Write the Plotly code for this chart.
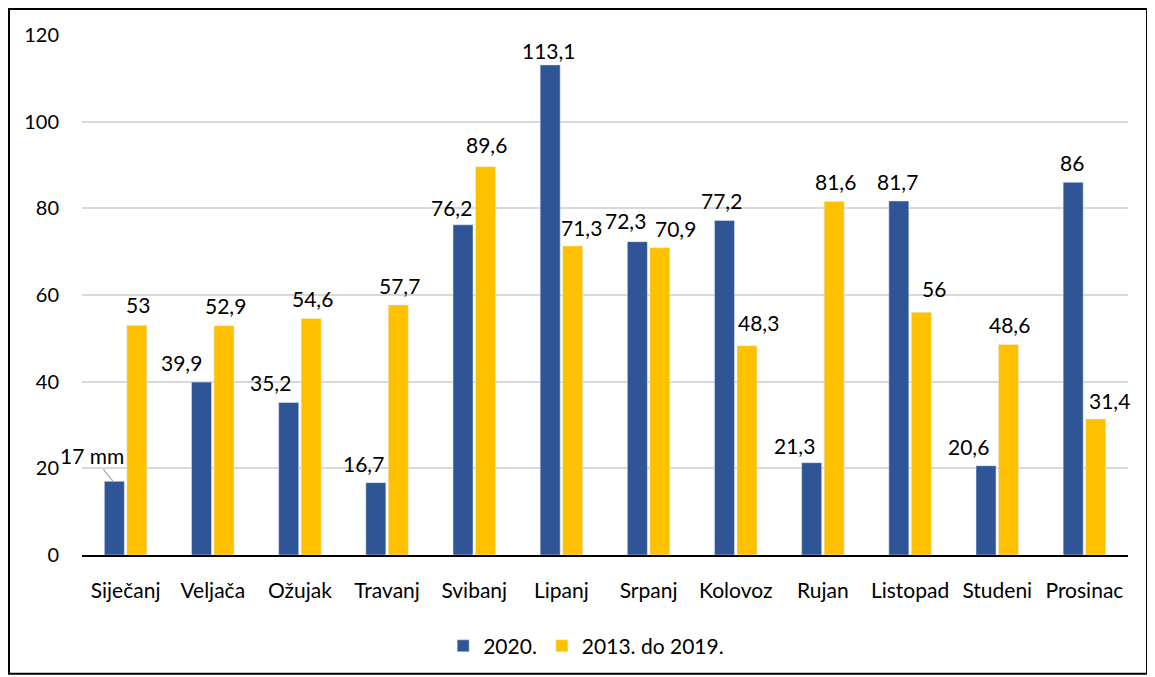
import plotly.graph_objects as go

months = ["Siječanj", "Veljača", "Ožujak", "Travanj", "Svibanj", "Lipanj",
          "Srpanj", "Kolovoz", "Rujan", "Listopad", "Studeni", "Prosinac"]
v2020 = [17, 39.9, 35.2, 16.7, 76.2, 113.1, 72.3, 77.2, 21.3, 81.7, 20.6, 86]
v1319 = [53, 52.9, 54.6, 57.7, 89.6, 71.3, 70.9, 48.3, 81.6, 56, 48.6, 31.4]

BLUE = "#2F5597"
GOLD = "#FFC000"
FONT = "Lato"
LBL = 21

# label nudges (px), copied from the original hand-placed labels
dx_blue = [0, -19, -17, -11, -10, 0, -11, -2, -16, 0, -16, 0]
dy_blue = [0, 0, 0, 0, -2, -5, 2, 0, -2, 0, 0, 0]
dx_gold = [0, 0, 0, 0, 0, 8, 14, 10, 0, 11, 0, 13]
dy_gold = [1, 1, 0, 0, 3, -1, 0, 4, 0, 4, 0, -1]


def fmt(v):
    s = ("%.1f" % v).rstrip("0").rstrip(".")
    return s.replace(".", ",")


fig = go.Figure()
fig.add_trace(go.Bar(x=months, y=v2020, name="2020.", marker_color=BLUE))
fig.add_trace(go.Bar(x=months, y=v1319, name="2013. do 2019.", marker_color=GOLD))

annotations = []
for i, m in enumerate(months):
    if i == 0:
        annotations.append(dict(
            x=m, y=v2020[i], xref="x", yref="y", text=fmt(v2020[i]) + " mm",
            xshift=-12.5, showarrow=True, arrowhead=0, arrowwidth=1.2,
            arrowcolor="#A6A6A6", ax=-21, ay=-26, standoff=0,
            font=dict(family=FONT, size=LBL, color="black")))
    else:
        annotations.append(dict(
            x=m, y=v2020[i], xref="x", yref="y", text=fmt(v2020[i]),
            xshift=-12.5 + dx_blue[i], yshift=5 + dy_blue[i],
            yanchor="bottom", showarrow=False,
            font=dict(family=FONT, size=LBL, color="black")))
    annotations.append(dict(
        x=m, y=v1319[i], xref="x", yref="y", text=fmt(v1319[i]),
        xshift=12.5 + dx_gold[i], yshift=5 + dy_gold[i],
        yanchor="bottom", showarrow=False,
        font=dict(family=FONT, size=LBL, color="black")))

# page has an 8px body margin, so the figure is 8px smaller than the window
fig.update_layout(
    width=1147, height=669,
    margin=dict(l=74, r=27, t=27, b=121),
    paper_bgcolor="white", plot_bgcolor="white",
    barmode="group", bargap=0.484, bargroupgap=0.11,
    font=dict(family=FONT, size=20, color="black"),
    annotations=annotations,
    showlegend=True,
    legend=dict(orientation="h", x=0.482, xanchor="center", y=-0.173,
                yanchor="middle", font=dict(size=21), itemwidth=30),
    shapes=[dict(type="rect", xref="paper", yref="paper",
                 x0=-0.0698, x1=1.0182, y0=-0.2284, y1=1.0499,
                 line=dict(color="black", width=2), layer="below")],
)
fig.update_yaxes(range=[0, 120], dtick=20, showgrid=True, gridcolor="#D9D9D9",
                 gridwidth=1.5, zeroline=False, ticklabelstandoff=22,
                 tickfont=dict(size=20))
fig.update_xaxes(range=[-0.5, 11.5], showline=True, linecolor="black",
                 linewidth=2, tickfont=dict(size=21), ticklabelstandoff=16)

fig.write_html("out.html")
